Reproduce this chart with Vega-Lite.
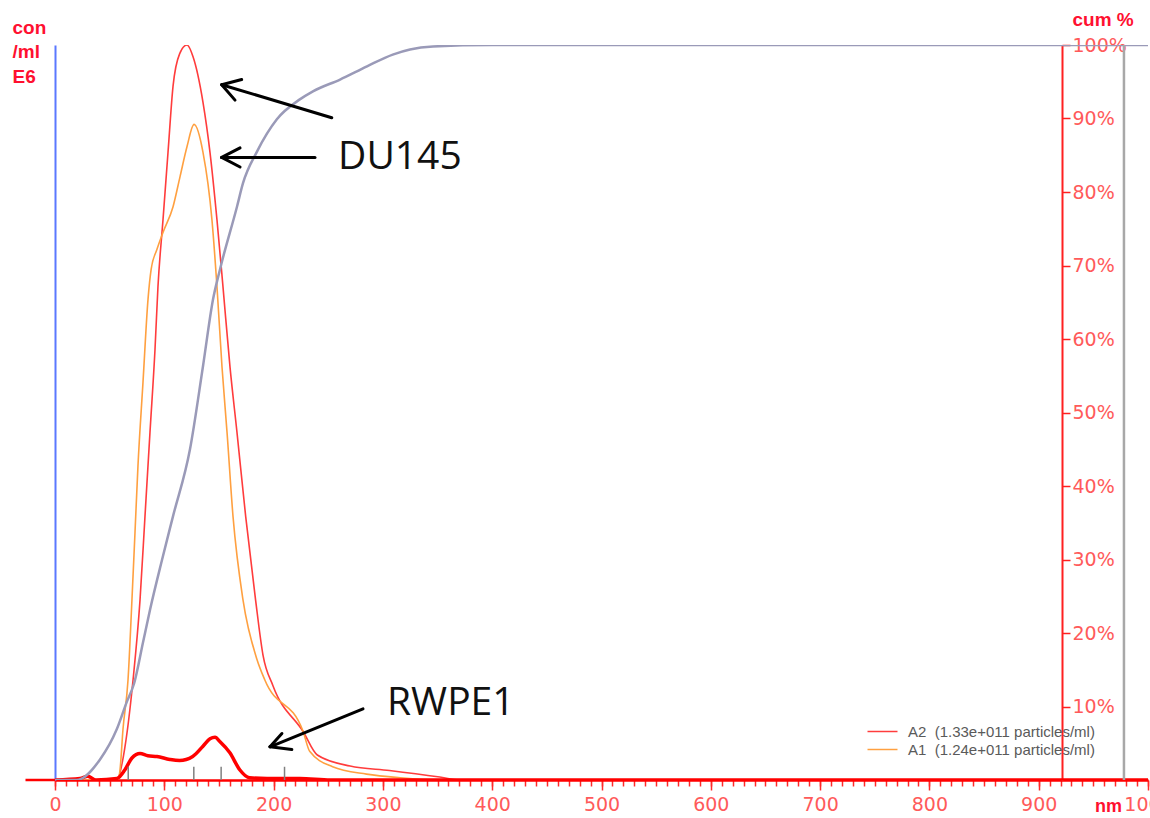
{
  "$schema": "https://vega.github.io/schema/vega-lite/v6.json",
  "width": 1093,
  "height": 735,
  "autosize": {"type": "none"},
  "padding": {"left": 55, "top": 45, "right": 2, "bottom": 38},
  "background": "white",
  "config": {"view": {"stroke": null}},
  "datasets": {
    "conc": [
      {"size": 0, "conc": 0, "series": "A2\u00a0 (1.33e+011 particles/ml)"},
      {"size": 50, "conc": 0, "series": "A2\u00a0 (1.33e+011 particles/ml)"},
      {"size": 57.6, "conc": 0.3, "series": "A2\u00a0 (1.33e+011 particles/ml)"},
      {"size": 64, "conc": 4.5, "series": "A2\u00a0 (1.33e+011 particles/ml)"},
      {"size": 71.4, "conc": 13.6, "series": "A2\u00a0 (1.33e+011 particles/ml)"},
      {"size": 77.8, "conc": 24.5, "series": "A2\u00a0 (1.33e+011 particles/ml)"},
      {"size": 82.3, "conc": 35.8, "series": "A2\u00a0 (1.33e+011 particles/ml)"},
      {"size": 86.9, "conc": 47.3, "series": "A2\u00a0 (1.33e+011 particles/ml)"},
      {"size": 91.5, "conc": 58.6, "series": "A2\u00a0 (1.33e+011 particles/ml)"},
      {"size": 94.2, "conc": 67.1, "series": "A2\u00a0 (1.33e+011 particles/ml)"},
      {"size": 98.8, "conc": 76.2, "series": "A2\u00a0 (1.33e+011 particles/ml)"},
      {"size": 103.4, "conc": 85.4, "series": "A2\u00a0 (1.33e+011 particles/ml)"},
      {"size": 108, "conc": 94.4, "series": "A2\u00a0 (1.33e+011 particles/ml)"},
      {"size": 114, "conc": 98.8, "series": "A2\u00a0 (1.33e+011 particles/ml)"},
      {"size": 120.8, "conc": 100, "series": "A2\u00a0 (1.33e+011 particles/ml)"},
      {"size": 126.3, "conc": 98.4, "series": "A2\u00a0 (1.33e+011 particles/ml)"},
      {"size": 135.4, "conc": 92.2, "series": "A2\u00a0 (1.33e+011 particles/ml)"},
      {"size": 141.8, "conc": 85.4, "series": "A2\u00a0 (1.33e+011 particles/ml)"},
      {"size": 148.2, "conc": 76.2, "series": "A2\u00a0 (1.33e+011 particles/ml)"},
      {"size": 153.7, "conc": 67.1, "series": "A2\u00a0 (1.33e+011 particles/ml)"},
      {"size": 160.1, "conc": 56.2, "series": "A2\u00a0 (1.33e+011 particles/ml)"},
      {"size": 166.5, "conc": 47.3, "series": "A2\u00a0 (1.33e+011 particles/ml)"},
      {"size": 174.5, "conc": 35.8, "series": "A2\u00a0 (1.33e+011 particles/ml)"},
      {"size": 183.5, "conc": 24.5, "series": "A2\u00a0 (1.33e+011 particles/ml)"},
      {"size": 190.3, "conc": 17.0, "series": "A2\u00a0 (1.33e+011 particles/ml)"},
      {"size": 199.5, "conc": 12.8, "series": "A2\u00a0 (1.33e+011 particles/ml)"},
      {"size": 227, "conc": 6.6, "series": "A2\u00a0 (1.33e+011 particles/ml)"},
      {"size": 240, "conc": 3.4, "series": "A2\u00a0 (1.33e+011 particles/ml)"},
      {"size": 270, "conc": 1.9, "series": "A2\u00a0 (1.33e+011 particles/ml)"},
      {"size": 306, "conc": 1.3, "series": "A2\u00a0 (1.33e+011 particles/ml)"},
      {"size": 352, "conc": 0.4, "series": "A2\u00a0 (1.33e+011 particles/ml)"},
      {"size": 370, "conc": 0, "series": "A2\u00a0 (1.33e+011 particles/ml)"},
      {"size": 1000, "conc": 0, "series": "A2\u00a0 (1.33e+011 particles/ml)"},
      {"size": 0, "conc": 0, "series": "A1\u00a0 (1.24e+011 particles/ml)"},
      {"size": 50, "conc": 0, "series": "A1\u00a0 (1.24e+011 particles/ml)"},
      {"size": 57.6, "conc": 0, "series": "A1\u00a0 (1.24e+011 particles/ml)"},
      {"size": 59.5, "conc": 1.4, "series": "A1\u00a0 (1.24e+011 particles/ml)"},
      {"size": 62.2, "conc": 6.9, "series": "A1\u00a0 (1.24e+011 particles/ml)"},
      {"size": 66.8, "conc": 13.6, "series": "A1\u00a0 (1.24e+011 particles/ml)"},
      {"size": 70.4, "conc": 24.5, "series": "A1\u00a0 (1.24e+011 particles/ml)"},
      {"size": 73.2, "conc": 33.7, "series": "A1\u00a0 (1.24e+011 particles/ml)"},
      {"size": 75.9, "conc": 42.7, "series": "A1\u00a0 (1.24e+011 particles/ml)"},
      {"size": 80.5, "conc": 54.1, "series": "A1\u00a0 (1.24e+011 particles/ml)"},
      {"size": 85.1, "conc": 65.4, "series": "A1\u00a0 (1.24e+011 particles/ml)"},
      {"size": 88, "conc": 69.5, "series": "A1\u00a0 (1.24e+011 particles/ml)"},
      {"size": 93.3, "conc": 72.2, "series": "A1\u00a0 (1.24e+011 particles/ml)"},
      {"size": 98.8, "conc": 74.5, "series": "A1\u00a0 (1.24e+011 particles/ml)"},
      {"size": 108, "conc": 78.0, "series": "A1\u00a0 (1.24e+011 particles/ml)"},
      {"size": 114.4, "conc": 82.1, "series": "A1\u00a0 (1.24e+011 particles/ml)"},
      {"size": 120.8, "conc": 86.2, "series": "A1\u00a0 (1.24e+011 particles/ml)"},
      {"size": 127.2, "conc": 89.2, "series": "A1\u00a0 (1.24e+011 particles/ml)"},
      {"size": 135.4, "conc": 85.4, "series": "A1\u00a0 (1.24e+011 particles/ml)"},
      {"size": 143.6, "conc": 76.2, "series": "A1\u00a0 (1.24e+011 particles/ml)"},
      {"size": 148.2, "conc": 67.1, "series": "A1\u00a0 (1.24e+011 particles/ml)"},
      {"size": 152.8, "conc": 56.2, "series": "A1\u00a0 (1.24e+011 particles/ml)"},
      {"size": 157.4, "conc": 47.3, "series": "A1\u00a0 (1.24e+011 particles/ml)"},
      {"size": 162.9, "conc": 35.8, "series": "A1\u00a0 (1.24e+011 particles/ml)"},
      {"size": 172, "conc": 24.5, "series": "A1\u00a0 (1.24e+011 particles/ml)"},
      {"size": 184.8, "conc": 16.4, "series": "A1\u00a0 (1.24e+011 particles/ml)"},
      {"size": 192, "conc": 13.6, "series": "A1\u00a0 (1.24e+011 particles/ml)"},
      {"size": 227, "conc": 6.6, "series": "A1\u00a0 (1.24e+011 particles/ml)"},
      {"size": 233, "conc": 3.9, "series": "A1\u00a0 (1.24e+011 particles/ml)"},
      {"size": 254, "conc": 1.8, "series": "A1\u00a0 (1.24e+011 particles/ml)"},
      {"size": 285, "conc": 0.8, "series": "A1\u00a0 (1.24e+011 particles/ml)"},
      {"size": 316, "conc": 0.3, "series": "A1\u00a0 (1.24e+011 particles/ml)"},
      {"size": 352, "conc": 0, "series": "A1\u00a0 (1.24e+011 particles/ml)"},
      {"size": 1000, "conc": 0, "series": "A1\u00a0 (1.24e+011 particles/ml)"}
    ],
    "rwpe": [
      {"size": 0, "conc": 0},
      {"size": 23, "conc": 0.2},
      {"size": 30, "conc": 0.5},
      {"size": 37.5, "conc": 0},
      {"size": 56.7, "conc": 0.2},
      {"size": 64, "conc": 1.4},
      {"size": 70.4, "conc": 3.0},
      {"size": 77.8, "conc": 3.6},
      {"size": 85, "conc": 3.3},
      {"size": 93.3, "conc": 3.2},
      {"size": 105, "conc": 2.8},
      {"size": 114, "conc": 2.65},
      {"size": 126, "conc": 3.2},
      {"size": 135.4, "conc": 4.6},
      {"size": 141.8, "conc": 5.6},
      {"size": 146.4, "conc": 5.8},
      {"size": 151, "conc": 5.2},
      {"size": 160, "conc": 3.7},
      {"size": 169, "conc": 1.4},
      {"size": 178, "conc": 0.3},
      {"size": 194, "conc": 0.2},
      {"size": 224, "conc": 0.2},
      {"size": 252, "conc": 0},
      {"size": 1000, "conc": 0}
    ],
    "cum": [
      {"size": 0, "cum": 0},
      {"size": 19.8, "cum": 0},
      {"size": 41.2, "cum": 2.8},
      {"size": 56.5, "cum": 6.9},
      {"size": 65.6, "cum": 10.6},
      {"size": 72.5, "cum": 13.2},
      {"size": 80.5, "cum": 18.7},
      {"size": 87, "cum": 23.2},
      {"size": 98, "cum": 30.0},
      {"size": 108, "cum": 35.9},
      {"size": 123.5, "cum": 45.0},
      {"size": 135.4, "cum": 56.3},
      {"size": 144.6, "cum": 65.4},
      {"size": 151, "cum": 69.5},
      {"size": 166.5, "cum": 78.0},
      {"size": 172, "cum": 81.2},
      {"size": 184.8, "cum": 85.5},
      {"size": 203, "cum": 89.9},
      {"size": 224, "cum": 92.6},
      {"size": 236, "cum": 93.7},
      {"size": 260.8, "cum": 95.3},
      {"size": 285.5, "cum": 97.1},
      {"size": 309, "cum": 98.7},
      {"size": 324.8, "cum": 99.4},
      {"size": 345.8, "cum": 99.8},
      {"size": 400, "cum": 100},
      {"size": 1000, "cum": 100}
    ],
    "stats": [
      {"size": 67}, {"size": 127}, {"size": 152}, {"size": 210}
    ],
    "arrows": [
      {"x": 253.2, "y": 90.1, "x2": 152.5, "y2": 94.6},
      {"x": 170.8, "y": 95.3, "x2": 152.5, "y2": 94.6},
      {"x": 164.7, "y": 92.5, "x2": 152.5, "y2": 94.6},
      {"x": 237.9, "y": 84.7, "x2": 152.5, "y2": 84.7},
      {"x": 169.3, "y": 86.0, "x2": 152.5, "y2": 84.7},
      {"x": 169.3, "y": 83.4, "x2": 152.5, "y2": 84.7},
      {"x": 281.8, "y": 9.69, "x2": 196.7, "y2": 4.52},
      {"x": 207.6, "y": 6.33, "x2": 196.7, "y2": 4.52},
      {"x": 216.7, "y": 4.15, "x2": 196.7, "y2": 4.52}
    ],
    "labels": [
      {"x": 259, "y": 83.1, "text": "DU145"},
      {"x": 303.8, "y": 8.9, "text": "RWPE1"}
    ]
  },
  "resolve": {"axis": {"x": "independent", "y": "independent"}},
  "layer": [
    {
      "data": {"name": "conc"},
      "mark": {"type": "line", "interpolate": "monotone", "strokeWidth": 1.6, "clip": true},
      "encoding": {
        "x": {
          "field": "size", "type": "quantitative",
          "scale": {"domain": [0, 1000], "nice": false, "zero": false},
          "axis": {
            "orient": "bottom",
            "values": [0,10,20,30,40,50,60,70,80,90,100,110,120,130,140,150,160,170,180,190,200,210,220,230,240,250,260,270,280,290,300,310,320,330,340,350,360,370,380,390,400,410,420,430,440,450,460,470,480,490,500,510,520,530,540,550,560,570,580,590,600,610,620,630,640,650,660,670,680,690,700,710,720,730,740,750,760,770,780,790,800,810,820,830,840,850,860,870,880,890,900,910,920,930,940,950,960,970,980,990,1000],
            "labels": false, "domain": false, "grid": false, "title": null,
            "tickSize": 6, "tickColor": "#ff2a2a", "tickWidth": 1.5
          }
        },
        "y": {
          "field": "conc", "type": "quantitative",
          "scale": {"domain": [0, 100], "nice": false, "zero": true},
          "axis": {
            "orient": "left", "ticks": false, "labels": false, "grid": false,
            "domainColor": "#5b78ff", "domainWidth": 2,
            "title": ["con", "/ml", "E6"], "titleAngle": 0, "titleAlign": "left",
            "titleBaseline": "alphabetic", "titleX": -43, "titleY": -12,
            "titleLineHeight": 24.5, "titleFont": "Liberation Sans",
            "titleFontSize": 19, "titleFontWeight": "bold", "titleColor": "#ff1030"
          }
        },
        "color": {
          "field": "series", "type": "nominal",
          "scale": {"domain": ["A2\u00a0 (1.33e+011 particles/ml)", "A1\u00a0 (1.24e+011 particles/ml)"], "range": ["#ff3c3c", "#ffa040"]},
          "legend": {
            "orient": "none", "legendX": 820, "legendY": 679, "title": null,
            "symbolType": "M-3,0L3,0", "symbolSize": 100, "symbolStrokeWidth": 1.5,
            "labelOffset": 18, "labelFont": "Liberation Sans", "labelFontSize": 15,
            "labelColor": "#5a5a5a", "rowPadding": 2, "labelLimit": 400
          }
        }
      }
    },
    {
      "data": {"name": "rwpe"},
      "mark": {"type": "line", "interpolate": "monotone", "strokeWidth": 3.5, "color": "#ff0000", "clip": true},
      "encoding": {
        "x": {"field": "size", "type": "quantitative", "axis": null},
        "y": {"field": "conc", "type": "quantitative", "axis": null}
      }
    },
    {
      "data": {"name": "cum"},
      "mark": {"type": "line", "interpolate": "monotone", "strokeWidth": 2.5, "color": "#9a9ab8", "clip": true},
      "encoding": {
        "x": {
          "field": "size", "type": "quantitative",
          "axis": {
            "orient": "bottom", "format": "d",
            "values": [0, 100, 200, 300, 400, 500, 600, 700, 800, 900, 1000],
            "grid": false, "domainColor": "#ff0000", "domainWidth": 2.5,
            "tickColor": "#ff2a2a", "tickSize": 10, "tickWidth": 1.5,
            "labelColor": "#ff5a5a", "labelFont": "DejaVu Sans", "labelFontSize": 19,
            "labelPadding": 5, "labelOverlap": false, "labelFlush": false,
            "title": "nm", "titleX": 1053, "titleY": 31, "titleAlign": "center",
            "titleBaseline": "alphabetic", "titleFont": "Liberation Sans",
            "titleFontSize": 18, "titleFontWeight": "bold", "titleColor": "#ff1030"
          }
        },
        "y": {
          "field": "cum", "type": "quantitative",
          "axis": {
            "orient": "right", "offset": -86, "grid": false,
            "values": [10, 20, 30, 40, 50, 60, 70, 80, 90, 100],
            "labelExpr": "datum.value + '%'",
            "domainColor": "#ff2020", "domainWidth": 2,
            "tickColor": "#ff2020", "tickSize": 8, "tickWidth": 1.5,
            "labelColor": "#ff5a5a", "labelFont": "DejaVu Sans", "labelFontSize": 19,
            "labelPadding": 2, "labelOverlap": false, "labelFlush": false,
            "title": "cum %", "titleAngle": 0, "titleAlign": "left",
            "titleBaseline": "alphabetic", "titleX": 10, "titleY": -20,
            "titleFont": "Liberation Sans", "titleFontSize": 19,
            "titleFontWeight": "bold", "titleColor": "#ff1030"
          }
        }
      }
    },
    {
      "data": {"values": [{"from": -27, "to": 0}]},
      "mark": {"type": "rule", "color": "#ff0000", "strokeWidth": 2.5},
      "encoding": {
        "x": {"field": "from", "type": "quantitative", "axis": null},
        "x2": {"field": "to"},
        "y": {"datum": 0, "type": "quantitative", "axis": null}
      }
    },
    {
      "data": {"name": "stats"},
      "mark": {"type": "rule", "color": "#808080", "strokeWidth": 1.5},
      "encoding": {
        "x": {"field": "size", "type": "quantitative", "axis": null},
        "y": {"datum": 0, "type": "quantitative", "axis": null},
        "y2": {"datum": 1.8}
      }
    },
    {
      "data": {"values": [{"size": 978}]},
      "mark": {"type": "rule", "color": "#a8a8a8", "strokeWidth": 2.5},
      "encoding": {
        "x": {"field": "size", "type": "quantitative", "axis": null}
      }
    },
    {
      "data": {"name": "arrows"},
      "mark": {"type": "rule", "color": "#000000", "strokeWidth": 3, "strokeCap": "round"},
      "encoding": {
        "x": {"field": "x", "type": "quantitative", "axis": null},
        "y": {"field": "y", "type": "quantitative", "axis": null},
        "x2": {"field": "x2"},
        "y2": {"field": "y2"}
      }
    },
    {
      "data": {"name": "labels"},
      "mark": {"type": "text", "align": "left", "baseline": "alphabetic", "font": "Open Sans", "fontSize": 39, "color": "#111111"},
      "encoding": {
        "x": {"field": "x", "type": "quantitative", "axis": null},
        "y": {"field": "y", "type": "quantitative", "axis": null},
        "text": {"field": "text"}
      }
    }
  ]
}
